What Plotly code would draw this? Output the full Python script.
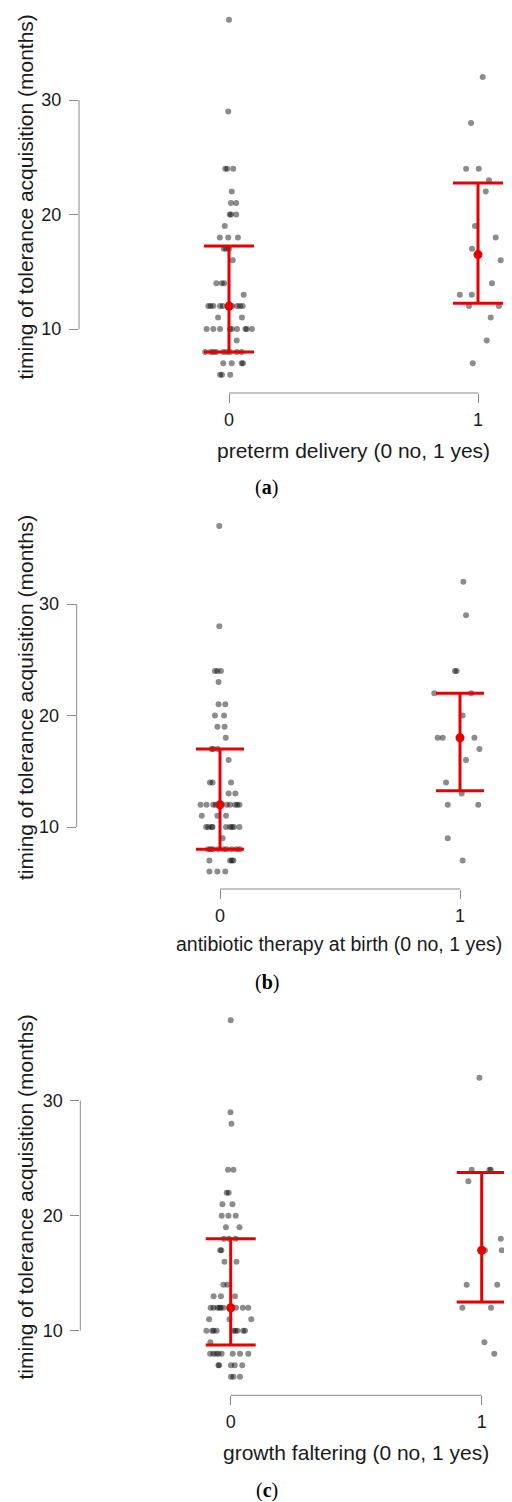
import numpy as np
import plotly.graph_objects as go

# ---------------- data ----------------
y_title = "timing of tolerance acquisition (months)"
x_titles = ["preterm delivery (0 no, 1 yes)",
            "antibiotic therapy at birth (0 no, 1 yes)",
            "growth faltering (0 no, 1 yes)"]
captions = ["a", "b", "c"]
y_ticks = [10, 20, 30]
x_ticks = [0, 1]
x_tick_labels = ["0", "1"]

# panel (a): preterm delivery
a_g0_vals = [37, 29, 24, 24, 24, 22, 21, 21, 20, 20, 20, 19, 18, 18, 18, 17, 17, 17, 16,
             14, 14, 14, 13, 12, 12, 12, 12, 12, 12, 12, 12, 12, 11, 11,
             10, 10, 10, 10, 10, 10, 10, 10, 10, 9, 8, 8, 8, 8, 8, 8, 8, 8, 8,
             7, 7, 7, 7, 6, 6, 6]
a_g0_jit = [0.000, -0.003, -0.015, -0.007, 0.017, 0.011, 0.008, 0.029, 0.003, 0.008, 0.029,
            -0.017, -0.037, -0.003, 0.036, -0.021, -0.012, 0.000, 0.015,
            -0.051, -0.029, -0.019, 0.059,
            -0.083, -0.074, -0.063, -0.036, -0.025, 0.013, 0.033, 0.044, 0.055,
            -0.044, 0.052,
            -0.090, -0.063, -0.036, 0.004, 0.011, 0.032, 0.066, 0.071, 0.092, 0.031,
            -0.096, -0.074, -0.063, -0.052, -0.023, -0.009, 0.004, 0.031, 0.051,
            -0.023, 0.011, 0.051, 0.056, -0.036, -0.028, 0.005]
a_g1_vals = [32, 28, 24, 24, 23, 22, 19, 18, 17, 16, 14, 13, 13, 12, 12, 11, 9, 7]
a_g1_jit = [0.019, -0.028, -0.048, 0.003, 0.044, 0.031, -0.012, 0.071, -0.024, 0.091,
            0.056, -0.073, -0.025, -0.036, 0.084, 0.051, 0.035, -0.021]

# panel (b): antibiotic therapy at birth
b_g0_vals = [37, 28, 24, 24, 24, 23, 21, 21, 20, 20, 19, 19, 18, 17, 17, 17, 16,
             14, 14, 14, 13, 13, 12, 12, 12, 12, 12, 12, 12, 12, 12, 11, 11, 11,
             10, 10, 10, 10, 10, 10, 10, 10, 10, 9, 8, 8, 8, 8, 8, 8, 8, 8, 8,
             7, 7, 7, 7, 6, 6, 6]
b_g0_jit = [-0.003, -0.003, -0.021, -0.011, 0.004, -0.006, -0.006, 0.022, -0.021, 0.017,
            -0.011, 0.019, 0.024, -0.035, -0.028, -0.010, 0.036,
            -0.042, -0.031, 0.046, 0.036, 0.064,
            -0.081, -0.056, -0.028, -0.018, 0.028, 0.042, 0.063, 0.072, 0.081,
            -0.076, -0.011, 0.025,
            -0.058, -0.049, -0.035, -0.031, 0.025, 0.042, 0.050, 0.058, 0.081, 0.011,
            -0.049, -0.039, -0.028, -0.007, 0.014, 0.028, 0.049, 0.069, 0.083,
            -0.044, 0.042, 0.049, 0.056, -0.044, -0.011, 0.022]
b_g1_vals = [32, 29, 24, 24, 22, 22, 20, 18, 18, 18, 17, 16, 14, 13, 12, 12, 9, 7]
b_g1_jit = [0.014, 0.025, -0.021, -0.014, -0.107, 0.046, 0.011, -0.093, -0.072, 0.060,
            0.081, 0.025, -0.058, 0.007, -0.051, 0.076, -0.051, 0.011]

# panel (c): growth faltering
c_g0_vals = [37, 29, 28, 24, 24, 22, 22, 21, 21, 20, 20, 20, 19, 19, 18, 18, 18, 17, 17,
             16, 16, 14, 14, 13, 13, 13, 12, 12, 12, 12, 12, 12, 12, 12, 12, 11, 11, 11,
             10, 10, 10, 10, 10, 10, 10, 10, 10, 9, 8, 8, 8, 8, 8, 8, 8, 8,
             7, 7, 7, 7, 7, 6, 6, 6]
c_g0_jit = [0.000, -0.001, 0.003, -0.011, 0.011, -0.016, -0.008, -0.033, 0.007,
            -0.036, -0.009, 0.020, -0.019, 0.035, -0.027, -0.007, 0.019, -0.042, -0.037,
            -0.025, 0.023, -0.029, -0.013, -0.068, -0.039, 0.017,
            -0.080, -0.069, -0.053, -0.045, -0.040, -0.029, 0.021, 0.048, 0.070,
            -0.086, -0.005, 0.082,
            -0.097, -0.074, -0.068, -0.056, 0.011, 0.019, 0.027, 0.050, 0.057, -0.081,
            -0.082, -0.069, -0.058, -0.049, -0.036, 0.008, 0.037, 0.070,
            -0.049, -0.046, 0.001, 0.016, 0.046, 0.001, 0.011, 0.037]
c_g1_vals = [32, 24, 24, 24, 23, 18, 17, 17, 14, 14, 12, 12, 9, 8]
c_g1_jit = [-0.009, -0.040, 0.031, 0.036, -0.053, 0.076, 0.013, 0.080, -0.060, 0.062,
            -0.077, 0.037, 0.011, 0.050]

panels = [
    (a_g0_vals, a_g0_jit, a_g1_vals, a_g1_jit),
    (b_g0_vals, b_g0_jit, b_g1_vals, b_g1_jit),
    (c_g0_vals, c_g0_jit, c_g1_vals, c_g1_jit),
]

# ---------------- layout geometry (pixels of the 512x1502 page) ----------------
PAGE_W, PAGE_H = 512, 1502
BODY = 8                      # default body margin of the written page
W, H = PAGE_W - BODY, PAGE_H - BODY

geom = [
    dict(left=79.0, x0=229.0, xu=249.0, y10=329.0, yu=11.45, top=10, bot=393.0,
         ytc=197.5, xtc=(353, 450), xts=21, cap=(266, 487), bar=25),
    dict(left=76.7, x0=220.0, xu=240.0, y10=827.0, yu=11.15, top=510, bot=889.0,
         ytc=698.0, xtc=(339, 944), xts=19.5, cap=(267, 982), bar=24),
    dict(left=80.3, x0=230.7, xu=251.0, y10=1330.7, yu=11.5, top=1005, bot=1395.3,
         ytc=1197.5, xtc=(356, 1452), xts=21, cap=(267, 1490), bar=25),
]

def px_x(x):
    return (x - BODY) / W

def px_y(y):
    return 1 - (y - BODY) / H

RED = "#e60000"
AXIS_GRAY = "#8a8a8a"
TEXT = "#1a1a1a"
SANS = "Liberation Sans, Arial, sans-serif"
SERIF = "Liberation Serif, DejaVu Serif, serif"

fig = go.Figure()
shapes = []
annotations = []
layout_axes = {}

for i, ((v0, j0, v1, j1), g) in enumerate(zip(panels, geom)):
    n = "" if i == 0 else str(i + 1)
    xa, ya = "x" + n, "y" + n
    xs = [0 + j for j in j0] + [1 + j for j in j1]
    ys = list(v0) + list(v1)
    fig.add_trace(go.Scatter(
        x=xs, y=ys, mode="markers", xaxis=xa, yaxis=ya, showlegend=False,
        marker=dict(size=6, color="rgba(0,0,0,0.45)", line=dict(width=0)),
        hoverinfo="skip"))
    q = [np.percentile(v, [25, 50, 75]) for v in (v0, v1)]
    med = [float(t[1]) for t in q]
    up = [float(t[2] - t[1]) for t in q]
    lo = [float(t[1] - t[0]) for t in q]
    fig.add_trace(go.Scatter(
        x=x_ticks, y=med, mode="markers", xaxis=xa, yaxis=ya, showlegend=False,
        marker=dict(size=9, color=RED),
        error_y=dict(type="data", symmetric=False, array=up, arrayminus=lo,
                     color=RED, thickness=3, width=g["bar"])))

    xmin = (g["left"] - g["x0"]) / g["xu"]
    xmax = (PAGE_W - g["x0"]) / g["xu"]
    ybot = 10 + (g["y10"] - g["bot"]) / g["yu"]
    ytop = 10 + (g["y10"] - g["top"]) / g["yu"]
    layout_axes["xaxis" + n] = dict(
        domain=[px_x(g["left"]), 1.0], range=[xmin, xmax], anchor=ya,
        showgrid=False, zeroline=False, showline=False,
        tickmode="array", tickvals=x_ticks, ticktext=x_tick_labels,
        ticks="outside", ticklen=9, tickwidth=1, tickcolor=AXIS_GRAY,
        tickfont=dict(family=SANS, size=18, color=TEXT), ticklabelstandoff=1)
    layout_axes["yaxis" + n] = dict(
        domain=[px_y(g["bot"]), px_y(g["top"])], range=[ybot, ytop], anchor=xa,
        showgrid=False, zeroline=False, showline=False,
        tickmode="array", tickvals=y_ticks,
        ticks="outside", ticklen=9, tickwidth=1, tickcolor=AXIS_GRAY,
        tickfont=dict(family=SANS, size=18, color=TEXT), ticklabelstandoff=4)

    shapes.append(dict(type="line", xref=xa + " domain", yref=ya,
                       x0=0, x1=0, y0=min(y_ticks), y1=max(y_ticks),
                       line=dict(color=AXIS_GRAY, width=1)))
    shapes.append(dict(type="line", xref=xa, yref=ya + " domain",
                       x0=min(x_ticks), x1=max(x_ticks), y0=0, y1=0,
                       line=dict(color=AXIS_GRAY, width=1)))

    annotations.append(dict(text=y_title, xref="paper", yref="paper",
                            x=px_x(25), y=px_y(g["ytc"]), textangle=-90,
                            showarrow=False, xanchor="center", yanchor="middle",
                            font=dict(family=SANS, size=21, color=TEXT)))
    annotations.append(dict(text=x_titles[i], xref="paper", yref="paper",
                            x=px_x(g["xtc"][0]), y=px_y(g["xtc"][1]),
                            showarrow=False, xanchor="center", yanchor="middle",
                            font=dict(family=SANS, size=g["xts"], color=TEXT)))
    annotations.append(dict(text="(<b>" + captions[i] + "</b>)", xref="paper", yref="paper",
                            x=px_x(g["cap"][0]), y=px_y(g["cap"][1]),
                            showarrow=False, xanchor="center", yanchor="middle",
                            font=dict(family=SERIF, size=20, color="#000000")))

fig.update_layout(
    width=W, height=H, margin=dict(l=0, r=0, t=0, b=0),
    paper_bgcolor="white", plot_bgcolor="white",
    shapes=shapes, annotations=annotations, **layout_axes)

fig.write_html("out.html")
